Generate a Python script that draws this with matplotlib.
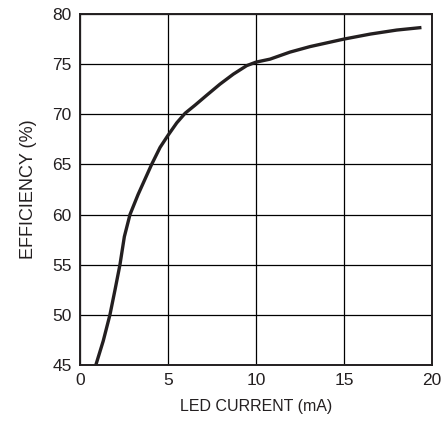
import matplotlib
matplotlib.use("Agg")
import matplotlib.pyplot as plt

# values
led_current = [0.9, 1.32, 1.7, 1.99, 2.27, 2.52, 2.84, 3.3, 4.07, 4.55, 5.0, 5.5,
               5.97, 6.53, 7.2, 7.95, 8.71, 9.47, 10.0, 10.8, 11.93, 13.07,
               15.0, 16.5, 18.0, 19.4]
efficiency = [45.0, 47.4, 50.0, 52.5, 55.0, 57.8, 60.0, 62.0, 65.0, 66.7, 67.9, 69.15,
              70.1, 70.9, 71.9, 73.0, 74.0, 74.85, 75.2, 75.5, 76.2, 76.75,
              77.5, 78.0, 78.4, 78.65]

xticks = [0, 5, 10, 15, 20]
yticks = [45, 50, 55, 60, 65, 70, 75, 80]

plt.rcParams['font.family'] = ['Liberation Sans', 'DejaVu Sans']

fig = plt.figure(figsize=(4.41, 4.25), dpi=100)
ax = fig.add_axes([80/441, 60/425, 352/441, 351/425])

ax.plot(led_current, efficiency, color='#231f20', lw=2.4,
        solid_capstyle='butt', solid_joinstyle='round')

ax.set_xlim(0, 20)
ax.set_ylim(45, 80)
ax.set_xticks(xticks)
ax.set_yticks(yticks)
ax.grid(True, color='black', lw=0.9)
ax.tick_params(length=0, labelsize=12.5, pad=6, colors='#231f20')
for s in ax.spines.values():
    s.set_linewidth(1.4)
    s.set_color('#231f20')

ax.set_xlabel("LED CURRENT (mA)", fontsize=11.5, labelpad=8, color='#231f20')
ax.set_ylabel("EFFICIENCY (%)", fontsize=13, labelpad=11, color='#231f20')

fig.savefig("out.png", dpi=100)
